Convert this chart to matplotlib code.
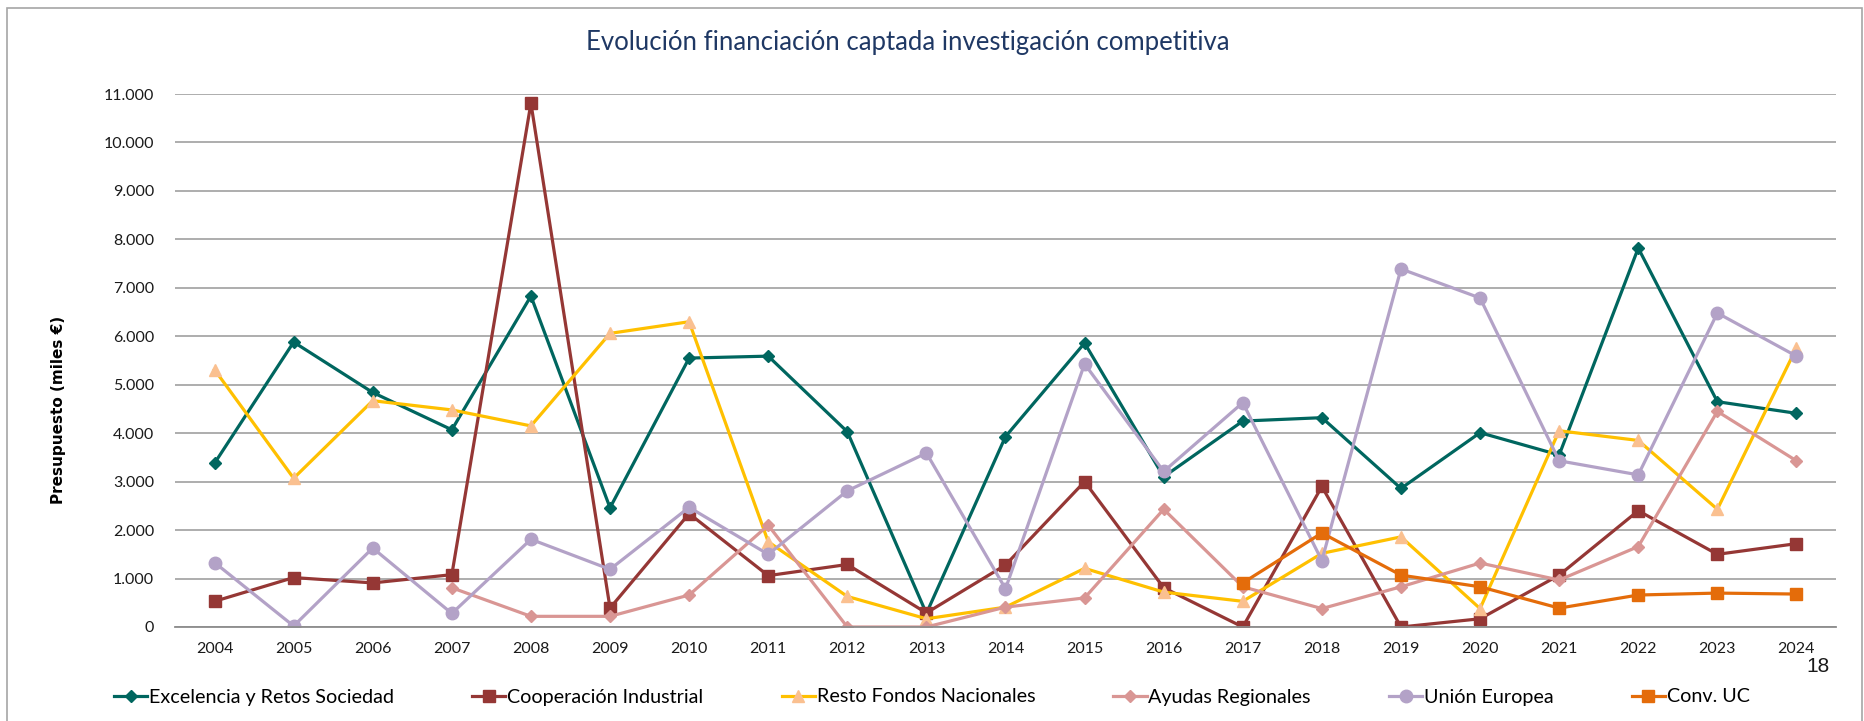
import numpy as np
import matplotlib
matplotlib.use('Agg')
import matplotlib.pyplot as plt
from matplotlib.patches import Rectangle
from matplotlib.ticker import FuncFormatter, MultipleLocator

# =============================================================
# Datos (miles de €)
# =============================================================
anios = ['2004', '2005', '2006', '2007', '2008', '2009', '2010', '2011', '2012', '2013', '2014',
         '2015', '2016', '2017', '2018', '2019', '2020', '2021', '2022', '2023', '2024']

excelencia = [3380, 5880, 4840, 4070, 6830, 2460, 5550, 5590, 4030, 280, 3930,
              5860, 3100, 4250, 4320, 2860, 4010, 3550, 7820, 4650, 4410]
cooperacion = [530, 1020, 910, 1080, 10810, 390, 2340, 1060, 1290, 290, 1280,
               3000, 810, 0, 2900, 0, 170, 1070, 2400, 1500, 1720]
resto_nac = [5310, 3070, 4670, 4480, 4150, 6060, 6300, 1760, 630, 170, 410,
             1210, 720, 530, 1520, 1860, 380, 4050, 3850, 2430, 5760]
ayudas_reg = [np.nan, np.nan, np.nan, 810, 220, 220, 660, 2100, 0, 0, 410,
              600, 2430, 830, 380, 830, 1320, 970, 1660, 4450, 3430]
union_eur = [1330, 20, 1630, 280, 1810, 1190, 2470, 1500, 2810, 3590, 790,
             5430, 3210, 4630, 1370, 7390, 6790, 3430, 3140, 6480, 5590]
conv_uc = [np.nan] * 13 + [910, 1940, 1070, 830, 390, 660, 700, 680]

# (nombre, valores, color línea, marcador, color marcador, tamaño)
series = [
    ('Excelencia y Retos Sociedad', excelencia, '#00665F', 'D', '#00665F', 6),
    ('Cooperación Industrial', cooperacion, '#953735', 's', '#953735', 8),
    ('Resto Fondos Nacionales', resto_nac, '#FFC000', '^', '#FAC090', 9),
    ('Ayudas Regionales', ayudas_reg, '#D99694', 'D', '#D99694', 6.5),
    ('Unión Europea', union_eur, '#B3A2C7', 'o', '#B3A2C7', 9),
    ('Conv. UC', conv_uc, '#E46C0A', 's', '#E46C0A', 8),
]

W, H = 1865, 721
fig = plt.figure(figsize=(W / 100, H / 100), dpi=100)

# borde del área del gráfico
fig.patches.append(Rectangle((7 / W, -0.05), (W - 10) / W, 1 - 8 / H + 0.05,
                             transform=fig.transFigure, fill=False,
                             edgecolor='#A6A6A6', linewidth=1.2))

ax = fig.add_axes([175 / W, 94 / H, (1836 - 175) / W, 533 / H])

x = np.arange(len(anios))
for nombre, vals, col, mk, mcol, ms in series:
    ax.plot(x, vals, color=col, linewidth=2.3, marker=mk, markersize=ms,
            markerfacecolor=mcol, markeredgecolor=mcol, label=nombre)

ax.set_xlim(-0.5, len(anios) - 0.5)
ax.set_ylim(0, 11000)
ax.yaxis.set_major_locator(MultipleLocator(1000))
ax.yaxis.set_major_formatter(FuncFormatter(lambda v, p: f'{int(v):,}'.replace(',', '.')))
ax.set_xticks(x)
ax.set_xticklabels(anios)

ax.grid(axis='y', color='#A0A0A0', linewidth=1.2)
ax.set_axisbelow(True)
for s in ['top', 'right', 'left']:
    ax.spines[s].set_visible(False)
ax.spines['bottom'].set_color('#8C8C8C')
ax.spines['bottom'].set_linewidth(1.3)
ax.tick_params(axis='both', length=0, labelsize=11.5, labelcolor='#1A1A1A')
ax.tick_params(axis='y', pad=15)
ax.tick_params(axis='x', pad=11)
for lab in ax.get_xticklabels() + ax.get_yticklabels():
    lab.set_family('Lato')

# título del eje Y (Excel lo coloca algo por debajo del centro)
fig.text(59 / W, 1 - 410 / H, 'Presupuesto (miles €)', rotation=90,
         ha='center', va='center', fontsize=11, fontweight='bold',
         family='DejaVu Sans', color='black')

fig.text(908 / W, 1 - 50 / H, 'Evolución financiación captada investigación competitiva',
         ha='center', va='baseline', fontsize=18.5, color='#1F3864', family='Lato')

fig.legend(loc='center left', bbox_to_anchor=(114 / W, 1 - 697 / H), ncol=6,
           frameon=False, prop={'family': 'Lato', 'size': 14.2},
           handlelength=1.68, handletextpad=0.1, columnspacing=3.96,
           borderpad=0, borderaxespad=0)

fig.text(1818 / W, 1 - 667 / H, '18', ha='center', va='center', fontsize=15,
         family='Liberation Sans', color='#1A1A1A')

fig.savefig('out.png', dpi=100)
